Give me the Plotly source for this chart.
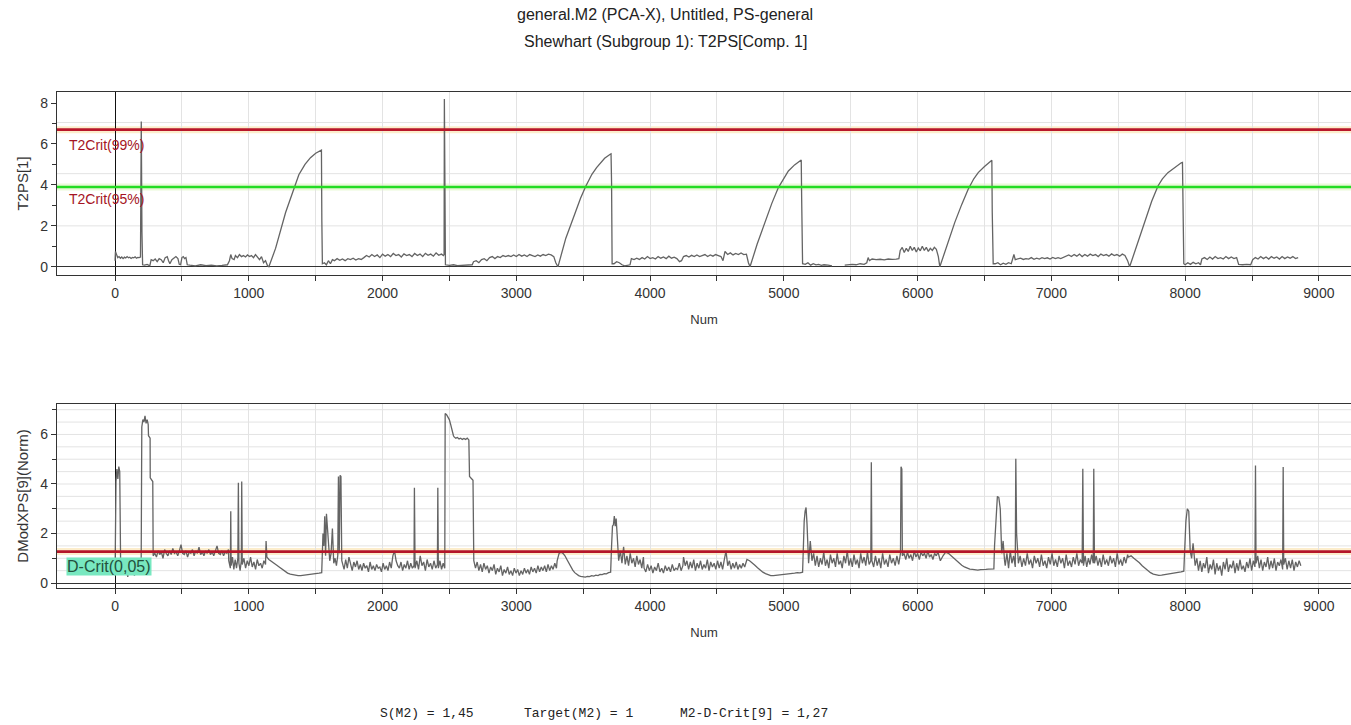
import plotly.graph_objects as go

# ---------------- data ----------------
# T2PS[1] (top chart): (Num, value) pairs
t2_points = [
    (0, 0.3), (3, 0.75), (10, 0.62), (20, 0.45), (30, 0.5), (40, 0.42), (50, 0.48), (60, 0.4), (70, 0.47),
    (80, 0.43), (90, 0.5), (100, 0.44), (110, 0.47), (120, 0.41), (130, 0.46), (140, 0.44), (150, 0.49),
    (160, 0.42), (170, 0.46), (180, 0.45), (190, 0.48), (196, 7.1), (201, 1.7), (206, 0.1),
    (220, 0.08), (240, 0.12), (260, 0.05), (270, 0.35), (285, 0.3), (300, 0.38), (315, 0.25), (330, 0.4),
    (345, 0.35), (360, 0.2), (375, 0.45), (390, 0.5), (400, 0.3), (410, 0.15), (425, 0.35), (440, 0.45),
    (455, 0.5), (470, 0.4), (480, 0.12), (490, 0.1), (500, 0.45), (510, 0.5), (520, 0.4), (530, 0.45), (540, 0.1),
    (560, 0.08), (600, 0.05), (640, 0.1), (680, 0.06), (720, 0.08), (760, 0.05), (800, 0.07), (840, 0.1),
    (855, 0.3), (865, 0.6), (875, 0.4), (890, 0.35), (900, 0.55), (915, 0.45), (930, 0.6), (945, 0.5),
    (960, 0.55), (975, 0.48), (990, 0.58), (1005, 0.5), (1020, 0.55), (1035, 0.45), (1050, 0.6), (1065, 0.5),
    (1080, 0.35), (1095, 0.5), (1110, 0.2), (1125, 0.3), (1140, 0.05),
    (1150, 0.0), (1200, 0.9), (1275, 2.65), (1330, 3.7), (1374, 4.5), (1420, 5.0), (1461, 5.33), (1500, 5.55),
    (1535, 5.69), (1543, 5.7), (1546, 2.2), (1550, 0.15),
    (1565, 0.2), (1580, 0.1), (1595, 0.3), (1610, 0.15), (1625, 0.35), (1640, 0.3), (1660, 0.4), (1680, 0.32),
    (1700, 0.38), (1720, 0.3), (1740, 0.4), (1760, 0.35), (1780, 0.42), (1800, 0.33), (1820, 0.4), (1840, 0.36),
    (1860, 0.45), (1880, 0.55), (1900, 0.48), (1920, 0.6), (1940, 0.5), (1960, 0.58), (1980, 0.45), (2000, 0.62),
    (2020, 0.52), (2040, 0.6), (2060, 0.5), (2080, 0.65), (2100, 0.55), (2120, 0.6), (2140, 0.48), (2160, 0.63),
    (2180, 0.55), (2200, 0.6), (2220, 0.5), (2240, 0.65), (2260, 0.55), (2280, 0.62), (2300, 0.5), (2320, 0.66),
    (2340, 0.56), (2360, 0.62), (2380, 0.52), (2400, 0.68), (2420, 0.56), (2440, 0.62), (2455, 0.55),
    (2460, 0.6), (2462, 8.2), (2465, 0.5), (2467, 4.6), (2470, 0.1),
    (2500, 0.07), (2530, 0.1), (2560, 0.06), (2600, 0.08), (2640, 0.07), (2670, 0.1),
    (2680, 0.25), (2700, 0.3), (2720, 0.2), (2740, 0.35), (2760, 0.4), (2780, 0.3), (2800, 0.45), (2820, 0.5),
    (2840, 0.4), (2860, 0.5), (2880, 0.45), (2900, 0.55), (2920, 0.5), (2940, 0.55),
    (2960, 0.5), (2980, 0.58), (3000, 0.5), (3020, 0.6), (3040, 0.52), (3060, 0.58), (3080, 0.5), (3100, 0.6),
    (3120, 0.55), (3140, 0.5), (3160, 0.58), (3180, 0.52), (3200, 0.6), (3220, 0.55), (3240, 0.62), (3260, 0.58),
    (3280, 0.5), (3295, 0.2),
    (3311, 0.0), (3370, 1.4), (3441, 2.65), (3480, 3.35), (3520, 3.95), (3565, 4.52), (3600, 4.85), (3627, 5.06),
    (3660, 5.3), (3702, 5.5), (3708, 5.52), (3712, 4.1), (3716, 0.15),
    (3730, 0.15), (3750, 0.25), (3770, 0.2), (3790, 0.1), (3810, 0.05), (3830, 0.08), (3850, 0.1),
    (3860, 0.4), (3880, 0.35), (3900, 0.42), (3920, 0.36), (3940, 0.45), (3960, 0.38), (3980, 0.5), (4000, 0.4),
    (4020, 0.45), (4040, 0.38), (4060, 0.5), (4080, 0.42), (4100, 0.48), (4120, 0.4), (4140, 0.52), (4160, 0.42),
    (4180, 0.47), (4200, 0.4), (4220, 0.25), (4235, 0.3),
    (4250, 0.5), (4270, 0.55), (4290, 0.48), (4310, 0.56), (4330, 0.5), (4350, 0.58), (4370, 0.5), (4390, 0.55),
    (4410, 0.6), (4430, 0.5), (4450, 0.58), (4470, 0.52), (4490, 0.6), (4510, 0.55), (4530, 0.5), (4545, 0.3),
    (4560, 0.75), (4580, 0.6), (4600, 0.68), (4620, 0.58), (4640, 0.65), (4660, 0.6), (4680, 0.68), (4700, 0.6),
    (4720, 0.62), (4735, 0.2),
    (4747, 0.0), (4800, 1.1), (4859, 2.17), (4910, 3.1), (4959, 3.87), (5000, 4.35), (5034, 4.68), (5080, 4.98),
    (5121, 5.2), (5130, 5.22), (5133, 3.38), (5140, 0.15),
    (5160, 0.12), (5180, 0.2), (5200, 0.08), (5220, 0.15), (5240, 0.1), (5260, 0.12), (5280, 0.07), (5300, 0.1),
    (5330, 0.08), (5360, 0.05), (5400, None),
    (5455, 0.08), (5480, 0.1), (5510, 0.12), (5540, 0.1), (5570, 0.15), (5600, 0.12), (5620, 0.2), (5630, 0.45),
    (5640, 0.3), (5660, 0.38), (5690, 0.35), (5720, 0.37), (5750, 0.34), (5780, 0.38), (5810, 0.36), (5840, 0.38),
    (5860, 0.4),
    (5870, 0.8), (5885, 0.95), (5900, 0.7), (5915, 0.9), (5930, 0.75), (5945, 1.0), (5960, 0.8), (5975, 0.95),
    (5990, 0.72), (6005, 0.92), (6020, 0.78), (6035, 1.0), (6050, 0.8), (6065, 0.95), (6080, 0.75), (6095, 0.9),
    (6110, 0.8), (6125, 0.95), (6140, 0.85), (6155, 0.5),
    (6166, 0.0), (6220, 1.1), (6278, 2.17), (6330, 3.05), (6378, 3.79), (6420, 4.3), (6453, 4.6), (6500, 4.9),
    (6547, 5.17), (6555, 5.2), (6558, 2.65), (6565, 0.15),
    (6580, 0.15), (6600, 0.2), (6620, 0.1), (6640, 0.18), (6660, 0.12), (6680, 0.2), (6700, 0.15), (6720, 0.6),
    (6730, 0.35), (6750, 0.38), (6770, 0.42), (6790, 0.36), (6810, 0.4), (6830, 0.38), (6850, 0.45), (6870, 0.37),
    (6890, 0.42), (6910, 0.38), (6930, 0.45), (6950, 0.4), (6970, 0.44), (6990, 0.38), (7010, 0.46), (7030, 0.4),
    (7050, 0.45), (7070, 0.4), (7090, 0.47),
    (7110, 0.5), (7130, 0.58), (7150, 0.5), (7170, 0.6), (7190, 0.52), (7210, 0.62), (7230, 0.5), (7250, 0.6),
    (7270, 0.52), (7290, 0.62), (7310, 0.55), (7330, 0.6), (7350, 0.5), (7370, 0.62), (7390, 0.55), (7410, 0.6),
    (7430, 0.52), (7450, 0.63), (7470, 0.55), (7490, 0.6), (7510, 0.52), (7530, 0.62), (7550, 0.55), (7570, 0.3),
    (7585, 0.0), (7640, 1.1), (7697, 2.17), (7750, 3.2), (7797, 3.95), (7830, 4.3), (7871, 4.6), (7920, 4.85),
    (7971, 5.08), (7980, 5.1), (7983, 2.17), (7990, 0.15),
    (8000, 0.1), (8020, 0.2), (8040, 0.12), (8060, 0.22), (8080, 0.15), (8100, 0.2), (8115, 0.1),
    (8125, 0.38), (8145, 0.45), (8165, 0.36), (8185, 0.48), (8205, 0.38), (8225, 0.5), (8245, 0.4), (8265, 0.45),
    (8285, 0.38), (8305, 0.5), (8325, 0.4), (8345, 0.48), (8365, 0.4), (8385, 0.45),
    (8400, 0.12), (8430, 0.1), (8460, 0.12), (8490, 0.1),
    (8505, 0.35), (8525, 0.45), (8545, 0.38), (8565, 0.5), (8585, 0.4), (8605, 0.48), (8625, 0.38), (8645, 0.5),
    (8665, 0.42), (8685, 0.48), (8705, 0.38), (8725, 0.5), (8745, 0.4), (8765, 0.48), (8785, 0.42), (8805, 0.5),
    (8825, 0.4), (8845, 0.45),
]

# DModXPS[9](Norm) (bottom chart): runs of consecutive observations (first Num, last Num, values)
dmod_runs = [
    (0, 42, [0.3, 4.1, 4.6, 4.2, 4.7, 4.5, 0.6]),
    (45, 195, [0.5, 0.7, 0.35, 0.6, 0.25, 0.8, 0.4, 0.55, 0.3, 0.7, 0.45, 0.9, 0.5]),
    (200, 248, [6.3, 6.6, 6.5, 6.75, 6.45, 6.6, 6.4]),
    (250, 262, [5.95, 5.9, 5.85]),
    (263, 282, [4.25, 4.2, 4.15, 4.1]),
    (285, 848, [1.1, 1.2, 1.05, 1.3, 1.15, 1.25, 1.0, 1.35, 1.2, 1.1, 1.3, 1.15, 1.4, 1.2, 1.25, 1.1, 1.3, 1.55,
                1.2, 1.15, 1.3, 1.05, 1.25, 1.2, 1.35, 1.1, 1.3, 1.2, 1.45, 1.15, 1.25, 1.1, 1.3, 1.2, 1.35, 1.15,
                1.25, 1.1, 1.3, 1.5, 1.2, 1.15, 1.3, 1.1, 1.25, 1.2, 1.35]),
    (850, 862, [0.9, 0.6]),
    (865, 865, [2.9]),
    (868, 918, [0.7, 1.05, 0.55, 0.95, 0.6, 1.0]),
    (922, 922, [4.05]),
    (926, 944, [0.8, 0.5, 0.9]),
    (947, 947, [4.1]),
    (951, 1125, [0.75, 1.0, 0.6, 0.9, 0.7, 1.05, 0.65, 0.85, 0.55, 0.95, 0.7, 0.8, 0.6, 0.9, 0.75]),
    (1129, 1129, [1.7]),
    (1135, 1284, [1.05, 0.95, 0.9, 0.85, 0.8, 0.72, 0.66, 0.6, 0.55, 0.5, 0.45]),
    (1290, 1545, [0.4, 0.36, 0.33, 0.31, 0.3, 0.3, 0.31, 0.32, 0.33, 0.35, 0.36, 0.38, 0.4, 0.42]),
    (1548, 1600, [1.2, 2.0, 1.5, 2.7, 1.1, 2.8, 2.3, 1.8, 0.9]),
    (1605, 1665, [0.9, 1.2, 2.2, 0.8, 1.0, 0.7, 1.1]),
    (1670, 1695, [4.3, 1.2, 4.35, 4.3, 0.9]),
    (1700, 2235, [0.8, 0.55, 0.95, 0.6, 1.05, 0.7, 0.5, 0.85, 0.65, 0.9, 0.55, 0.75, 0.5, 0.8, 0.6, 0.7, 0.45,
                  0.85, 0.55, 0.7, 0.5, 0.75, 0.6, 0.65, 0.45, 0.8, 0.55, 0.7, 0.5, 0.85, 0.6, 1.1, 1.3, 0.9, 0.7,
                  0.6, 0.85, 0.5, 0.75, 0.6, 0.9, 0.55, 0.8, 0.6, 0.7]),
    (2238, 2238, [3.85]),
    (2243, 2410, [0.6, 0.9, 0.55, 1.1, 0.7, 0.85, 0.5, 0.95, 0.65, 0.8, 0.55, 0.9, 0.6, 0.75]),
    (2413, 2413, [3.85]),
    (2417, 2465, [0.6, 0.9, 0.55, 0.8, 0.6]),
    (2468, 2530, [6.85, 6.8, 6.7, 6.6, 6.4, 6.1, 5.95]),
    (2535, 2645, [5.9, 5.85, 5.88, 5.82, 5.85, 5.8, 5.84, 5.8, 5.85, 5.78]),
    (2650, 2676, [4.3, 4.22, 4.2, 4.15]),
    (2682, 3300, [0.9, 0.6, 0.85, 0.5, 0.75, 0.45, 0.8, 0.55, 0.7, 0.4, 0.65, 0.5, 0.75, 0.35, 0.6, 0.45, 0.7,
                  0.3, 0.55, 0.4, 0.65, 0.35, 0.5, 0.3, 0.6, 0.4, 0.55, 0.3, 0.5, 0.35, 0.6, 0.4, 0.55, 0.35, 0.65,
                  0.45, 0.6, 0.4, 0.7, 0.45, 0.65, 0.5, 0.7, 0.45, 0.75, 0.5, 0.7, 0.55, 0.8, 0.6]),
    (3305, 3495, [0.9, 1.2, 1.25, 1.2, 1.1, 0.95, 0.8, 0.65, 0.52, 0.42, 0.35, 0.3, 0.27, 0.25]),
    (3500, 3705, [0.25, 0.24, 0.27, 0.26, 0.3, 0.28, 0.32, 0.3, 0.35, 0.34, 0.38, 0.37, 0.42, 0.44]),
    (3712, 3760, [1.5, 2.3, 2.35, 2.7, 2.3, 2.6, 2.0, 1.1]),
    (3765, 3950, [0.9, 1.3, 0.8, 1.46, 0.75, 1.1, 0.7, 1.2, 0.8, 1.0, 0.65, 1.1, 0.75, 0.95, 0.6, 1.05]),
    (3955, 4245, [0.6, 0.45, 0.75, 0.5, 0.7, 0.4, 0.65, 0.5, 0.8, 0.45, 0.6, 0.4, 0.7, 0.5, 0.65, 0.45, 0.75,
                  0.5, 0.6, 0.55, 0.8, 0.5, 0.7]),
    (4250, 4720, [1.05, 0.7, 0.9, 0.55, 0.85, 0.6, 0.95, 0.5, 0.8, 0.6, 0.9, 0.55, 0.75, 0.6, 0.95, 0.5, 0.85,
                  0.65, 0.8, 0.55, 0.9, 0.6, 0.85, 0.55, 0.95, 1.3, 0.7, 0.9, 0.55, 0.8, 0.6, 0.85, 0.55, 0.75,
                  0.6, 0.8, 0.65, 0.9]),
    (4724, 5140, [0.95, 0.9, 0.82, 0.72, 0.62, 0.52, 0.44, 0.38, 0.33, 0.3, 0.3, 0.31, 0.33, 0.32, 0.35, 0.36,
                  0.38, 0.37, 0.4, 0.42, 0.41, 0.44]),
    (5145, 5180, [1.5, 2.5, 2.9, 3.05, 2.4, 1.2]),
    (5185, 5650, [0.8, 1.7, 0.9, 1.2, 0.7, 1.1, 0.65, 1.0, 0.75, 1.25, 0.7, 0.95, 0.6, 1.15, 0.8, 1.0, 0.65, 1.2,
                  0.75, 0.9, 0.6, 1.1, 0.8, 1.3, 0.7, 1.0, 0.65, 1.15, 0.75, 0.95, 0.6, 1.2, 0.8, 1.05, 0.7, 1.25,
                  0.75, 0.9]),
    (5654, 5654, [4.88]),
    (5658, 5872, [0.9, 0.65, 1.1, 0.7, 1.0, 0.6, 1.2, 0.75, 0.95, 0.65, 1.15, 0.8, 1.0, 0.7, 1.1, 0.75, 1.2]),
    (5876, 5882, [4.7, 4.6]),
    (5886, 6165, [1.1, 1.2, 0.95, 1.25, 1.0, 1.15, 0.9, 1.3, 1.05, 1.2, 0.95, 1.25, 1.1, 1.2, 1.0, 1.3, 1.05,
                  1.15, 0.95, 1.2, 1.1, 1.25, 0.9]),
    (6170, 6570, [0.9, 1.1, 1.25, 1.2, 1.1, 1.0, 0.9, 0.8, 0.72, 0.65, 0.6, 0.56, 0.55, 0.53, 0.52, 0.54, 0.53,
                  0.55, 0.56, 0.58, 0.57]),
    (6575, 6650, [1.5, 2.8, 3.5, 3.45, 3.0, 1.2, 1.7, 0.9]),
    (6655, 6730, [0.7, 1.2, 0.6, 1.3, 0.8, 1.1, 0.65]),
    (6734, 6734, [5.02]),
    (6740, 7230, [2.0, 0.8, 1.1, 0.65, 1.0, 0.7, 1.2, 0.75, 0.95, 0.6, 1.1, 0.8, 1.0, 0.65, 1.15, 0.7, 0.9, 0.6,
                  1.05, 0.75, 1.2, 0.7, 0.95, 0.65, 1.1, 0.8, 1.0, 0.6, 1.15, 0.7, 0.9, 0.65, 1.05, 0.75, 1.2, 0.7,
                  0.95, 0.8]),
    (7235, 7235, [4.62]),
    (7240, 7313, [0.7, 1.1, 0.65, 1.0, 0.75, 1.15, 0.8]),
    (7317, 7317, [4.62]),
    (7322, 7570, [0.8, 1.1, 0.7, 1.0, 0.65, 1.15, 0.75, 0.95, 0.7, 1.1, 0.8, 1.0, 0.65, 1.2, 0.75, 0.95, 0.7,
                  1.05, 0.8, 1.15]),
    (7575, 7990, [1.05, 1.1, 1.0, 0.92, 0.82, 0.7, 0.6, 0.5, 0.42, 0.36, 0.33, 0.31, 0.32, 0.34, 0.33, 0.36,
                  0.38, 0.4, 0.42, 0.45, 0.48]),
    (7995, 8070, [1.2, 2.5, 3.0, 2.9, 1.3, 1.0, 1.6, 0.8]),
    (8075, 8522, [0.7, 1.0, 0.5, 0.9, 0.45, 0.8, 0.6, 1.05, 0.4, 0.75, 0.55, 0.95, 0.35, 0.8, 0.5, 0.7, 0.3,
                  0.85, 0.55, 1.0, 0.45, 0.75, 0.6, 0.9, 0.4, 0.8, 0.5, 0.95, 0.55, 0.7, 0.45, 0.85, 0.6, 1.0,
                  0.5, 0.9, 0.65]),
    (8526, 8526, [4.75]),
    (8530, 8729, [0.8, 1.1, 0.6, 0.95, 0.5, 0.85, 0.65, 1.05, 0.55, 0.9, 0.6, 1.0, 0.5, 0.85, 0.7, 0.95, 0.55]),
    (8733, 8733, [4.69]),
    (8737, 8865, [0.75, 1.0, 0.55, 0.9, 0.6, 0.95, 0.5, 0.85, 0.65, 0.9, 0.7]),
]

t2crit_99 = 6.7
t2crit_95 = 3.9
dcrit_005 = 1.27
title_lines = ["general.M2 (PCA-X), Untitled, PS-general", "Shewhart (Subgroup 1): T2PS[Comp. 1]"]
footer_items = ["S(M2) = 1,45", "Target(M2) = 1", "M2-D-Crit[9] = 1,27"]
x_ticks = [0, 1000, 2000, 3000, 4000, 5000, 6000, 7000, 8000, 9000]

# ---------------- build series ----------------
t2_num = [p[0] for p in t2_points]
t2_val = [p[1] for p in t2_points]

dmod_num, dmod_val = [], []
for start, end, vals in dmod_runs:
    n = len(vals)
    for i, v in enumerate(vals):
        dmod_num.append(start if n == 1 else start + (end - start) * i / (n - 1))
        dmod_val.append(v)

# ---------------- figure ----------------
W, H = 1351, 725
ML, MR, MT, MB = 57, 0, 92, 137
PH = H - MT - MB


def px_x(p):
    return (p - ML) / (W - ML - MR)


def px_y(p):
    return (H - MB - p) / PH


FONT = "Liberation Sans, Arial, sans-serif"
LINE = "rgb(100,100,100)"
GRID = "#e3e3e3"

fig = go.Figure()
fig.add_trace(go.Scatter(x=t2_num, y=t2_val, mode="lines", line=dict(color=LINE, width=1.3),
                         xaxis="x", yaxis="y", showlegend=False, connectgaps=False))
fig.add_trace(go.Scatter(x=dmod_num, y=dmod_val, mode="lines", line=dict(color=LINE, width=1.3),
                         xaxis="x2", yaxis="y2", showlegend=False))

xrange = [-434, 9240]
top_dom = [px_y(275), 1.0]
bot_dom = [0.0, px_y(404)]

xcommon = dict(range=xrange, tickvals=x_ticks, ticks="outside", ticklen=5, tickcolor="#333",
               showgrid=True, gridcolor=GRID,
               minor=dict(dtick=500, tick0=0, ticks="outside", ticklen=5, tickcolor="#333",
                          showgrid=True, gridcolor=GRID),
               zeroline=True, zerolinecolor="#111", zerolinewidth=1.3,
               showline=True, linecolor="#333", linewidth=1.3, mirror=True,
               tickfont=dict(family=FONT, size=14, color="#333"),
               title=dict(text="Num", font=dict(family=FONT, size=13, color="#333"), standoff=14))

fig.update_layout(
    width=W, height=H, margin=dict(l=ML, r=MR, t=MT, b=MB),
    paper_bgcolor="white", plot_bgcolor="white",
    xaxis=dict(domain=[0, 1], anchor="y", **xcommon),
    xaxis2=dict(domain=[0, 1], anchor="y2", **xcommon),
    yaxis=dict(domain=top_dom, anchor="x", range=[-0.4, 8.54], tickvals=[0, 2, 4, 6, 8],
               ticks="outside", ticklen=5, tickcolor="#333", showgrid=False,
               minor=dict(tickvals=[1, 3, 5, 7], ticks="outside", ticklen=4, tickcolor="#333", showgrid=False),
               zeroline=True, zerolinecolor="#333", zerolinewidth=1.3,
               showline=True, linecolor="#333", linewidth=1.3,
               tickfont=dict(family=FONT, size=14, color="#333"),
               title=dict(text="T2PS[1]", font=dict(family=FONT, size=15, color="#333"), standoff=8)),
    yaxis2=dict(domain=bot_dom, anchor="x2", range=[-0.2, 7.23], tickvals=[0, 2, 4, 6],
                ticks="outside", ticklen=5, tickcolor="#333", showgrid=False,
                minor=dict(tickvals=[1, 3, 5, 7], ticks="outside", ticklen=4, tickcolor="#333", showgrid=False),
                zeroline=True, zerolinecolor="#333", zerolinewidth=1.3,
                showline=True, linecolor="#333", linewidth=1.3,
                tickfont=dict(family=FONT, size=14, color="#333"),
                title=dict(text="DModXPS[9](Norm)", font=dict(family=FONT, size=15, color="#333"), standoff=8)),
)

shapes = []
# horizontal grid lines (styling)
for gy in [2.0, 4.55, 7.05]:
    shapes.append(dict(type="line", xref="x domain", yref="y", x0=0, x1=1, y0=gy, y1=gy,
                       line=dict(color=GRID, width=1), layer="below"))
g = 0.5
while g < 7.2:
    shapes.append(dict(type="line", xref="x2 domain", yref="y2", x0=0, x1=1, y0=g, y1=g,
                       line=dict(color=GRID, width=1), layer="below"))
    g += 0.5


def limit(yref, xref, val, color, halo):
    shapes.append(dict(type="line", xref=xref + " domain", yref=yref, x0=0, x1=1, y0=val, y1=val,
                       line=dict(color=halo, width=7), layer="below"))
    shapes.append(dict(type="line", xref=xref + " domain", yref=yref, x0=0, x1=1, y0=val, y1=val,
                       line=dict(color=color, width=2.6), layer="above"))


limit("y", "x", t2crit_99, "rgb(185,22,42)", "rgba(250,225,170,0.6)")
limit("y", "x", t2crit_95, "rgb(35,220,35)", "rgba(220,245,190,0.6)")
limit("y2", "x2", dcrit_005, "rgb(180,22,42)", "rgba(250,225,170,0.6)")
fig.update_layout(shapes=shapes)

ann = []
ann.append(dict(text="T2Crit(99%)", xref="x", yref="y", x=-360, y=5.95, xanchor="left", yanchor="middle",
                showarrow=False, font=dict(family=FONT, size=14, color="rgb(165,20,35)")))
ann.append(dict(text="T2Crit(95%)", xref="x", yref="y", x=-360, y=3.3, xanchor="left", yanchor="middle",
                showarrow=False, font=dict(family=FONT, size=14, color="rgb(165,20,35)")))
ann.append(dict(text="D-Crit(0,05)", xref="x2", yref="y2", x=-365, y=0.66, xanchor="left", yanchor="middle",
                showarrow=False, bgcolor="rgb(120,232,192)", borderpad=0,
                font=dict(family=FONT, size=16, color="rgb(35,80,60)")))
for i, line in enumerate(title_lines):
    ann.append(dict(text=line, xref="paper", yref="paper", x=px_x(665), y=px_y([15, 41][i]),
                    xanchor="center", yanchor="middle", showarrow=False,
                    font=dict(family=FONT, size=16, color="#222")))
for item, p in zip(footer_items, [378, 521.7, 678]):
    ann.append(dict(text=item, xref="paper", yref="paper", x=px_x(p), y=px_y(713),
                    xanchor="left", yanchor="middle", showarrow=False,
                    font=dict(family="Liberation Mono, Courier New, monospace", size=13, color="#222")))
fig.update_layout(annotations=ann)

fig.write_html("out.html")
